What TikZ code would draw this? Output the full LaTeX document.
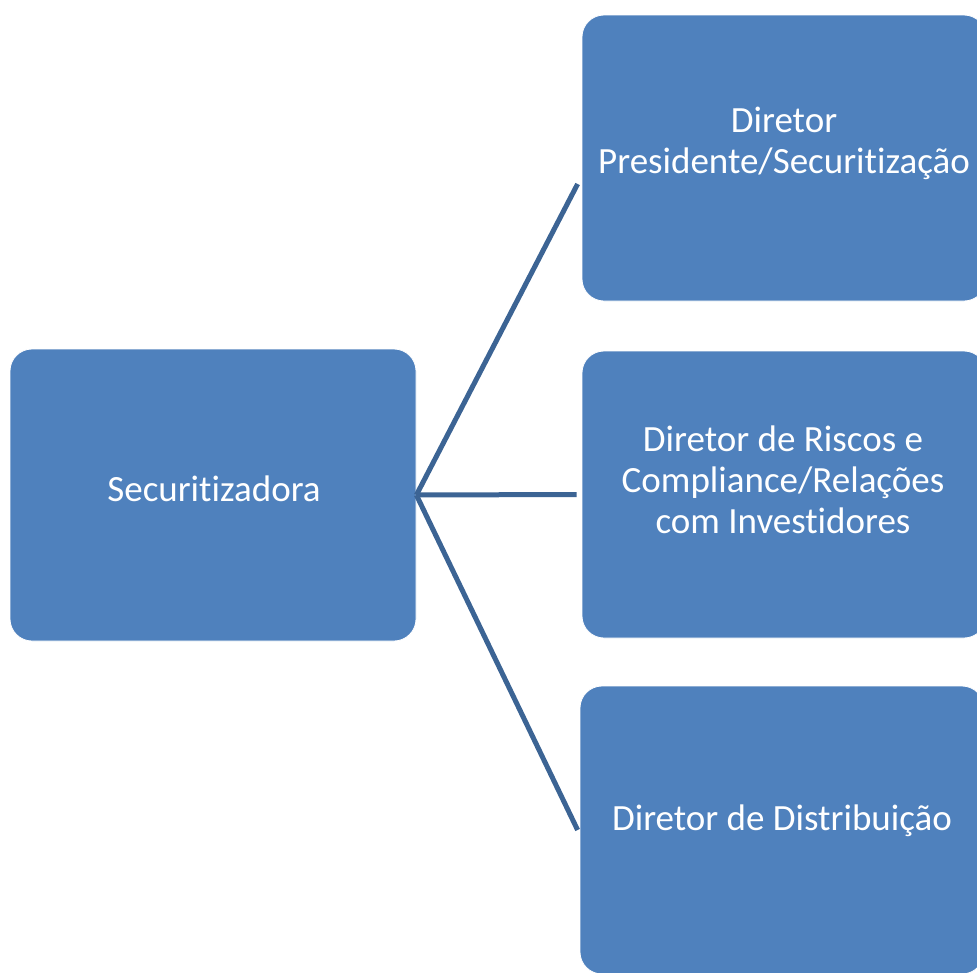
\documentclass[tikz,border=0pt]{standalone}
\usepackage{fontspec}
\setmainfont{Carlito}[Ligatures={NoCommon,NoContextual}]
\definecolor{boxblue}{HTML}{4F81BD}
\definecolor{linkblue}{HTML}{3C6494}
\begin{document}
\begin{tikzpicture}[x=1pt,y=-1pt,
  box/.style={fill=boxblue, draw=white, line width=0.8pt, rounded corners=22pt, inner sep=0pt},
  lbl/.style={text=white, font=\fontsize{37}{41}\selectfont, align=center, inner sep=0pt},
  link/.style={draw=linkblue, line width=5pt}]
\useasboundingbox (0,0) rectangle (977,972);
\clip (0,0) rectangle (977,972);
\node[box, minimum width=406pt, minimum height=292pt] (root) at (213,495) {};
\node[box, minimum width=404pt, minimum height=286pt] (d1) at (784,158) {};
\node[box, minimum width=404pt, minimum height=287pt] (d2) at (784,494.5) {};
\node[box, minimum width=404pt, minimum height=288pt] (d3) at (782,830) {};
\node[lbl] (t0) at (214,489) {Securitizadora};
\node[lbl] (t1) at (784,143) {Diretor\\Presidente/Securitização};
\node[lbl] (t2) at (783,480) {Diretor de Riscos e\\Compliance/Relações\\com Investidores};
\node[lbl] (t3) at (782,821) {Diretor de Distribuição};
\coordinate (e1) at ([xshift=-4pt,yshift=-26pt]d1.west);
\coordinate (e2) at ([xshift=-5pt]d2.west);
\coordinate (e3) at ([xshift=-2pt]d3.west);
\draw[link] (root.east) -- (e1);
\draw[link] (root.east) -- (e2);
\draw[link] (root.east) -- (e3);
\end{tikzpicture}
\end{document}
